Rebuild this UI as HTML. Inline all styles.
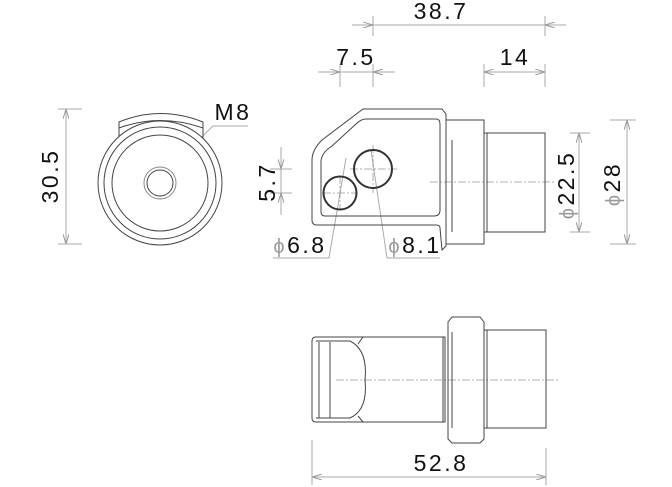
<!DOCTYPE html>
<html><head><meta charset="utf-8"><style>
html,body{margin:0;padding:0;background:#fff;}
svg{display:block;}
text{font-family:"Liberation Sans",sans-serif;fill:#111;}
</style></head><body>
<svg width="672" height="487" viewBox="0 0 672 487" xmlns="http://www.w3.org/2000/svg">
<defs>
<marker id="a" viewBox="0 0 10 6" refX="10" refY="3" markerWidth="10" markerHeight="6" orient="auto-start-reverse" markerUnits="userSpaceOnUse"><path d="M0,0 L10,3 L0,6" fill="none" stroke="#999" stroke-width="1"/></marker>
</defs>
<g fill="none" stroke="#aaa" stroke-width="1">
<line x1="373" y1="16" x2="373" y2="36"/><line x1="545" y1="16" x2="545" y2="36"/>
<line x1="352" y1="25" x2="373" y2="25" marker-end="url(#a)"/>
<line x1="373" y1="25" x2="545" y2="25"/>
<line x1="566" y1="25" x2="545" y2="25" marker-end="url(#a)"/>
<line x1="340" y1="64" x2="340" y2="87"/><line x1="373" y1="64" x2="373" y2="87"/>
<line x1="318" y1="72" x2="340" y2="72" marker-end="url(#a)"/>
<line x1="340" y1="72" x2="373" y2="72"/>
<line x1="395" y1="72" x2="373" y2="72" marker-end="url(#a)"/>
<line x1="484" y1="64" x2="484" y2="87"/><line x1="545" y1="64" x2="545" y2="87"/>
<line x1="484" y1="72" x2="545" y2="72" marker-start="url(#a)" marker-end="url(#a)"/>
<line x1="58" y1="109" x2="82" y2="109"/><line x1="58" y1="244" x2="82" y2="244"/>
<line x1="66" y1="109" x2="66" y2="244" marker-start="url(#a)" marker-end="url(#a)"/>
<line x1="270" y1="169" x2="292" y2="169"/><line x1="270" y1="193" x2="292" y2="193"/>
<line x1="281" y1="147" x2="281" y2="169" marker-end="url(#a)"/>
<line x1="281" y1="169" x2="281" y2="193"/>
<line x1="281" y1="215" x2="281" y2="193" marker-end="url(#a)"/>
<line x1="570" y1="133" x2="590" y2="133"/><line x1="570" y1="232" x2="590" y2="232"/>
<line x1="579" y1="133" x2="579" y2="232" marker-start="url(#a)" marker-end="url(#a)"/>
<line x1="610" y1="120" x2="636" y2="120"/><line x1="610" y1="244" x2="636" y2="244"/>
<line x1="627" y1="120" x2="627" y2="244" marker-start="url(#a)" marker-end="url(#a)"/>
<line x1="312" y1="440" x2="312" y2="485"/><line x1="546" y1="448" x2="546" y2="485"/>
<line x1="312" y1="477" x2="546" y2="477" marker-start="url(#a)" marker-end="url(#a)"/>
<polyline points="346,158 329,258 273,258"/>
<polyline points="371,150 387,258 440,258"/>
<line x1="172" y1="166" x2="213" y2="126"/><line x1="213" y1="126" x2="248" y2="126"/>
</g>
<g fill="none" stroke="#999" stroke-width="0.8" stroke-dasharray="8,2,2,2">
<line x1="430" y1="182" x2="555" y2="182"/>
<line x1="336" y1="380" x2="560" y2="380"/>
<line x1="323" y1="193" x2="357" y2="193"/><line x1="340" y1="176" x2="340" y2="210"/>
<line x1="350" y1="169" x2="397" y2="169"/><line x1="373" y1="145" x2="373" y2="193"/>
<line x1="140" y1="183" x2="180" y2="183"/><line x1="160" y1="163" x2="160" y2="203"/>
</g>
<g fill="none" stroke="#444" stroke-width="1">
<path d="M119,145 L119,122 Q160,105 203,122 L203,145"/>
<path d="M119,128 Q160,113 203,128"/>
<circle cx="160" cy="183" r="62" fill="#fff"/>
<circle cx="160" cy="183" r="56"/>
<circle cx="160" cy="183" r="48"/>
<circle cx="160" cy="183" r="16" stroke="#888"/>
<circle cx="160" cy="183" r="13"/>
</g>
<g fill="none" stroke="#444" stroke-width="1">
<path d="M363,109 L442,109 L446,114 L446,246 L442,250 L440,228 Q440,225 436,225 L317,225 Q312,225 312,220 L312,160 Q312,150 322,140 Z"/>
<path d="M366,119 L436,119 Q440,119 440,124 L440,210 Q440,216 434,216 L325,216 Q321,216 321,212 L321,162 Q321,153 332,146 L356,124 Q361,119 366,119 Z"/>
<rect x="446" y="120" width="38" height="124"/>
<line x1="452" y1="140" x2="452" y2="232"/>
<rect x="484" y="133" width="61" height="99"/>
<line x1="487" y1="133" x2="487" y2="232"/>
</g>
<g fill="none" stroke="#333" stroke-width="2">
<circle cx="340" cy="193" r="16.5"/>
<circle cx="373" cy="169" r="19"/>
</g>
<g fill="none" stroke="#444" stroke-width="1">
<path d="M316,337 L445,337 L445,422 L316,422 Q312,422 312,418 L312,341 Q312,337 316,337 Z"/>
<line x1="319" y1="342" x2="319" y2="418"/><line x1="330" y1="342" x2="330" y2="418"/>
<path d="M316,341 L350,341 Q368,350 365,380 Q368,410 350,418 L316,418"/>
<line x1="358" y1="344" x2="363" y2="337"/><line x1="358" y1="416" x2="363" y2="422"/>
<line x1="443" y1="337" x2="443" y2="422"/>
<path d="M452,317 L480,317 L484,322 L484,439 L480,443 L452,443 L448,439 L448,322 Z"/>
<line x1="452" y1="332" x2="452" y2="428"/>
<rect x="484" y="330" width="62" height="98"/>
<line x1="487" y1="330" x2="487" y2="428"/>
</g>
<g font-size="23" letter-spacing="2.5" text-anchor="middle">
<text x="441" y="19">38.7</text>
<text x="356" y="65">7.5</text>
<text x="515" y="65">14</text>
<text x="441" y="471">52.8</text>
<text x="233" y="120">M8</text>
<text x="300" y="253"><tspan fill="#999" font-size="20">ϕ</tspan>6.8</text>
<text x="415" y="253"><tspan fill="#999" font-size="20">ϕ</tspan>8.1</text>
<text transform="translate(58,176) rotate(-90)">30.5</text>
<text transform="translate(275,182) rotate(-90)">5.7</text>
<text transform="translate(574,185) rotate(-90)"><tspan fill="#999" font-size="20">ϕ</tspan>22.5</text>
<text transform="translate(620,184) rotate(-90)"><tspan fill="#999" font-size="20">ϕ</tspan>28</text>
</g>
</svg>
</body></html>
